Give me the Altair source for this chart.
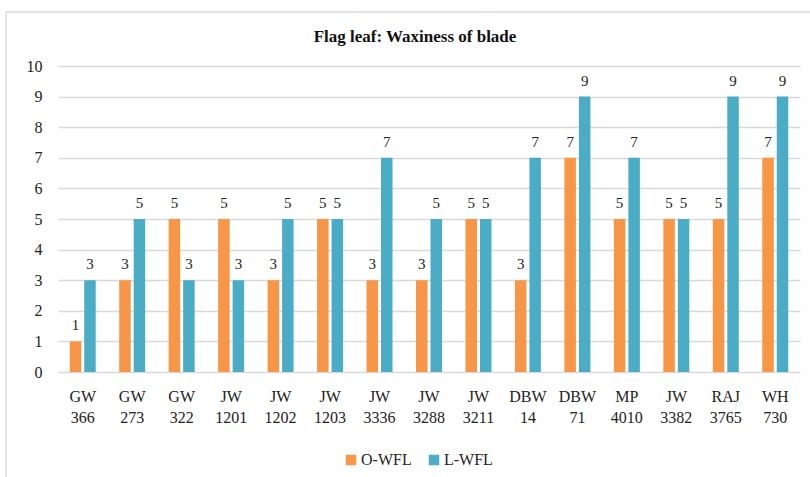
import altair as alt
import pandas as pd

categories = ["GW 366", "GW 273", "GW 322", "JW 1201", "JW 1202", "JW 1203", "JW 3336",
              "JW 3288", "JW 3211", "DBW 14", "DBW 71", "MP 4010", "JW 3382", "RAJ 3765", "WH 730"]
o_wfl = [1, 3, 5, 5, 3, 5, 3, 3, 5, 3, 7, 5, 5, 5, 7]
l_wfl = [3, 5, 3, 3, 5, 5, 7, 5, 5, 7, 9, 7, 5, 9, 9]
series = ["O-WFL", "L-WFL"]
colors = ["#F79646", "#4BACC6"]
title_text = "Flag leaf: Waxiness of blade"

rows = []
for c, o, l in zip(categories, o_wfl, l_wfl):
    rows.append({"cat": c, "series": "O-WFL", "value": o})
    rows.append({"cat": c, "series": "L-WFL", "value": l})
df = pd.DataFrame(rows)

FONT = "Times New Roman, Liberation Serif, serif"

x = alt.X("cat:N", sort=categories, title=None,
          scale=alt.Scale(paddingInner=0.475, paddingOuter=0.2375),
          axis=alt.Axis(labelExpr="split(datum.label, ' ')", labelAngle=0, labelFont=FONT,
                        labelFontSize=16, labelColor="#222222", labelPadding=16,
                        labelLineHeight=21, ticks=False, domain=False, grid=False))
xo = alt.XOffset("series:N", sort=series, scale=alt.Scale(paddingInner=0.207, paddingOuter=0))
y = alt.Y("value:Q", title=None,
          scale=alt.Scale(domain=[0, 10], nice=False),
          axis=alt.Axis(values=list(range(0, 11)), labelFont=FONT, labelFontSize=16,
                        labelColor="#222222", labelPadding=16, ticks=False, domain=False,
                        grid=True, gridColor="#d9d9d9", gridWidth=1.3, labelOverlap=False))

base = alt.Chart(df)

border = alt.Chart(pd.DataFrame({"a": [0]})).mark_rect(
    fill=None, stroke="#d9d9d9", strokeWidth=1.3
).encode(x=alt.value(-52), x2=alt.value(780), y=alt.value(-54), y2=alt.value(440))

title = alt.Chart(pd.DataFrame({"t": [title_text]})).mark_text(
    font=FONT, fontSize=17, fontWeight="bold", color="#111111", baseline="middle", align="center"
).encode(x=alt.value(357), y=alt.value(-29), text="t:N")

bars = base.mark_bar().encode(
    x=x, xOffset=xo, y=y,
    color=alt.Color("series:N", sort=series,
                    scale=alt.Scale(domain=series, range=colors),
                    legend=alt.Legend(title=None, orient="none", legendX=285, legendY=386,
                                      direction="horizontal", symbolType="square",
                                      symbolSize=110, symbolStrokeWidth=0,
                                      labelFont=FONT, labelFontSize=16, labelColor="#222222",
                                      columnPadding=14, labelOffset=2))
)

labels = base.mark_text(baseline="bottom", dy=-8, font=FONT, fontSize=15, color="#222222").encode(
    x=x, xOffset=xo, y=y, text="value:Q"
)

chart = alt.layer(border, title, bars, labels).properties(
    width=742, height=306,
    autosize=alt.AutoSizeParams(type="none"),
    padding={"left": 58, "top": 66, "right": 10, "bottom": 105}
).configure_view(stroke=None)

chart.save("out.html", embed_options={"renderer": "svg", "actions": False})
